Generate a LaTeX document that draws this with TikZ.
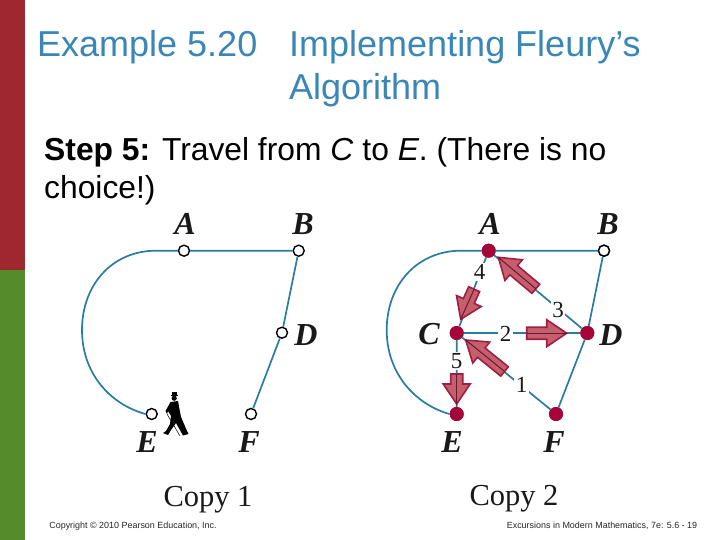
\documentclass[tikz,border=0pt]{standalone}
\usepackage{fontspec}
\setmainfont{Liberation Sans}
\newfontfamily\serifl{Liberation Serif}
\definecolor{barred}{HTML}{9E2830}
\definecolor{bargreen}{HTML}{558B2B}
\definecolor{titleblue}{HTML}{3A87B7}
\definecolor{edgeblue}{HTML}{2A7CA0}
\definecolor{dotred}{HTML}{A5043A}
\definecolor{arrowfill}{HTML}{C4606E}
\definecolor{arrowline}{HTML}{A01E42}
\tikzset{
 titletext/.style={anchor=base west,inner sep=0pt,text=titleblue,font=\fontsize{36}{36}\selectfont},
 bodytext/.style={anchor=base west,inner sep=0pt,text=black,font=\fontsize{31.8}{31.8}\selectfont},
 vlabel/.style={inner sep=0pt,anchor=base,font=\serifl\bfseries\itshape\fontsize{32}{32}\selectfont,text=black!90},
 copylabel/.style={inner sep=0pt,anchor=base,font=\serifl\fontsize{30.5}{30.5}\selectfont,text=black!90},
 numlabel/.style={inner sep=1.5pt,fill=white,font=\serifl\fontsize{23}{23}\selectfont,text=black!90},
 footer/.style={anchor=base,inner sep=0pt,text=black!85,font=\fontsize{8.95}{8.95}\selectfont},
 opendot/.style={circle,draw=black,fill=white,line width=1.4pt,minimum size=11pt,inner sep=0pt},
 fulldot/.style={circle,fill=dotred,minimum size=14pt,inner sep=0pt},
 edge/.style={draw=edgeblue,line width=1.7pt},
}
\newcommand{\blockarrow}[3]{%
 \begin{scope}[shift={(#1)},rotate=#2]
  \fill[arrowfill,draw=arrowline,line width=1.6pt,line join=miter]
    (0,0)--(-20,-13.5)--(-20,-6)--(-#3,-6)--(-#3,6)--(-20,6)--(-20,13.5)--cycle;
  \draw[arrowline!70!black,line width=1pt] (0,0)--(-#3,0);
 \end{scope}}
\begin{document}
\begin{tikzpicture}[x=1pt,y=-1pt]
\useasboundingbox (0,0) rectangle (720,540);
\fill[white] (0,0) rectangle (720,540);
\fill[barred] (0,0) rectangle (25,270);
\fill[bargreen] (0,270) rectangle (25,540);
\node[titletext] (t1) at (37,57) {Example 5.20};
\node[titletext] (t2) at (289,57) {Implementing Fleury’s};
\node[titletext] (t3) at (289,100) {Algorithm};
\node[bodytext] (s1) at (44,161) {\textbf{Step 5:} Travel from \textit{C} to \textit{E}. (There is no};
\node[bodytext] (s2) at (44,199) {choice!)};
% Copy 1
\node[opendot] (A1) at (184,250.7) {};
\node[opendot] (B1) at (298.7,250.7) {};
\node[opendot] (D1) at (282,332.7) {};
\node[opendot] (F1) at (251,414) {};
\node[opendot] (E1) at (151.7,414) {};
\coordinate (L1) at (82,330);
\draw[edge] (A1)--(B1) (B1)--(D1) (D1)--(F1);
\draw[edge] (A1.west) -- (156,250.7) .. controls (112,250.7) and (82,285) .. (L1) .. controls (82,375) and (112,405) .. (E1.west);
\node[vlabel] (lA1) at (185,234) {A};
\node[vlabel] (lB1) at (303,234) {B};
\node[vlabel] (lD1) at (306,345) {D};
\node[vlabel] (lE1) at (147,452) {E};
\node[vlabel] (lF1) at (249,452) {F};
\node[copylabel] (c1) at (208,506) {Copy 1};
% walker
\fill[black] (170.5,394.8) rectangle (178,396.2);
\fill[black] (172,392) rectangle (176.5,395);
\fill[black] (174.2,398.2) circle (2.6);
\fill[black] (170.5,402) -- (178,401) -- (180,412) -- (181,417) -- (184,424) -- (187,431) -- (188.5,434) -- (183,435.5) -- (176,423) -- (171,430) -- (168,435) -- (163,433) -- (166,431) -- (170,424) -- (171,416) -- (168,411) -- (167,414) -- (165.5,411) -- cycle;
\draw[black,line width=.5pt] (167,414) -- (180,436);
% Copy 2
\node[fulldot] (A2) at (488.7,250.7) {};
\node[opendot] (B2) at (604,250.7) {};
\node[fulldot] (C2) at (456.7,333) {};
\node[fulldot] (D2) at (587.3,333) {};
\node[fulldot] (E2) at (456.7,414) {};
\node[fulldot] (F2) at (556,414) {};
\coordinate (L2) at (386.7,330);
\draw[edge] (A2)--(B2) (B2)--(D2) (D2)--(F2) (A2)--(C2) (A2)--(D2) (C2)--(D2) (C2)--(F2) (C2)--(E2);
\draw[edge] (A2.west) -- (461,250.7) .. controls (417,250.7) and (386.7,285) .. (L2) .. controls (386.7,375) and (417,405) .. (E2.west);
\node[fulldot] at (A2) {};
\node[opendot] at (B2) {};
\node[fulldot] at (C2) {};
\node[fulldot] at (D2) {};
\node[fulldot] at (E2) {};
\node[fulldot] at (F2) {};
\node[numlabel] (n1) at (521.5,385) {1};
\node[numlabel] (n2) at (505.5,334) {2};
\node[numlabel] (n3) at (558,310) {3};
\node[numlabel] (n4) at (479.5,272) {4};
\node[numlabel] (n5) at (456.7,361) {5};
\blockarrow{498.3,257.3}{140}{49}
\blockarrow{460.7,319.3}{-114}{33}
\blockarrow{566.7,333.2}{0}{40}
\blockarrow{465.7,340}{141}{50}
\blockarrow{456.7,404}{-90}{30}
\node[vlabel] (lA2) at (490,234) {A};
\node[vlabel] (lB2) at (608,234) {B};
\node[vlabel] (lC2) at (429,344) {C};
\node[vlabel] (lD2) at (611,345) {D};
\node[vlabel] (lE2) at (452,452) {E};
\node[vlabel] (lF2) at (554,452) {F};
\node[copylabel] (c2) at (514,505) {Copy 2};
\node[footer] (f1) at (133,528) {Copyright © 2010 Pearson Education, Inc.};
\node[footer] (f2) at (602,528) {Excursions in Modern Mathematics, 7e: 5.6 - 19};
\end{tikzpicture}
\end{document}
